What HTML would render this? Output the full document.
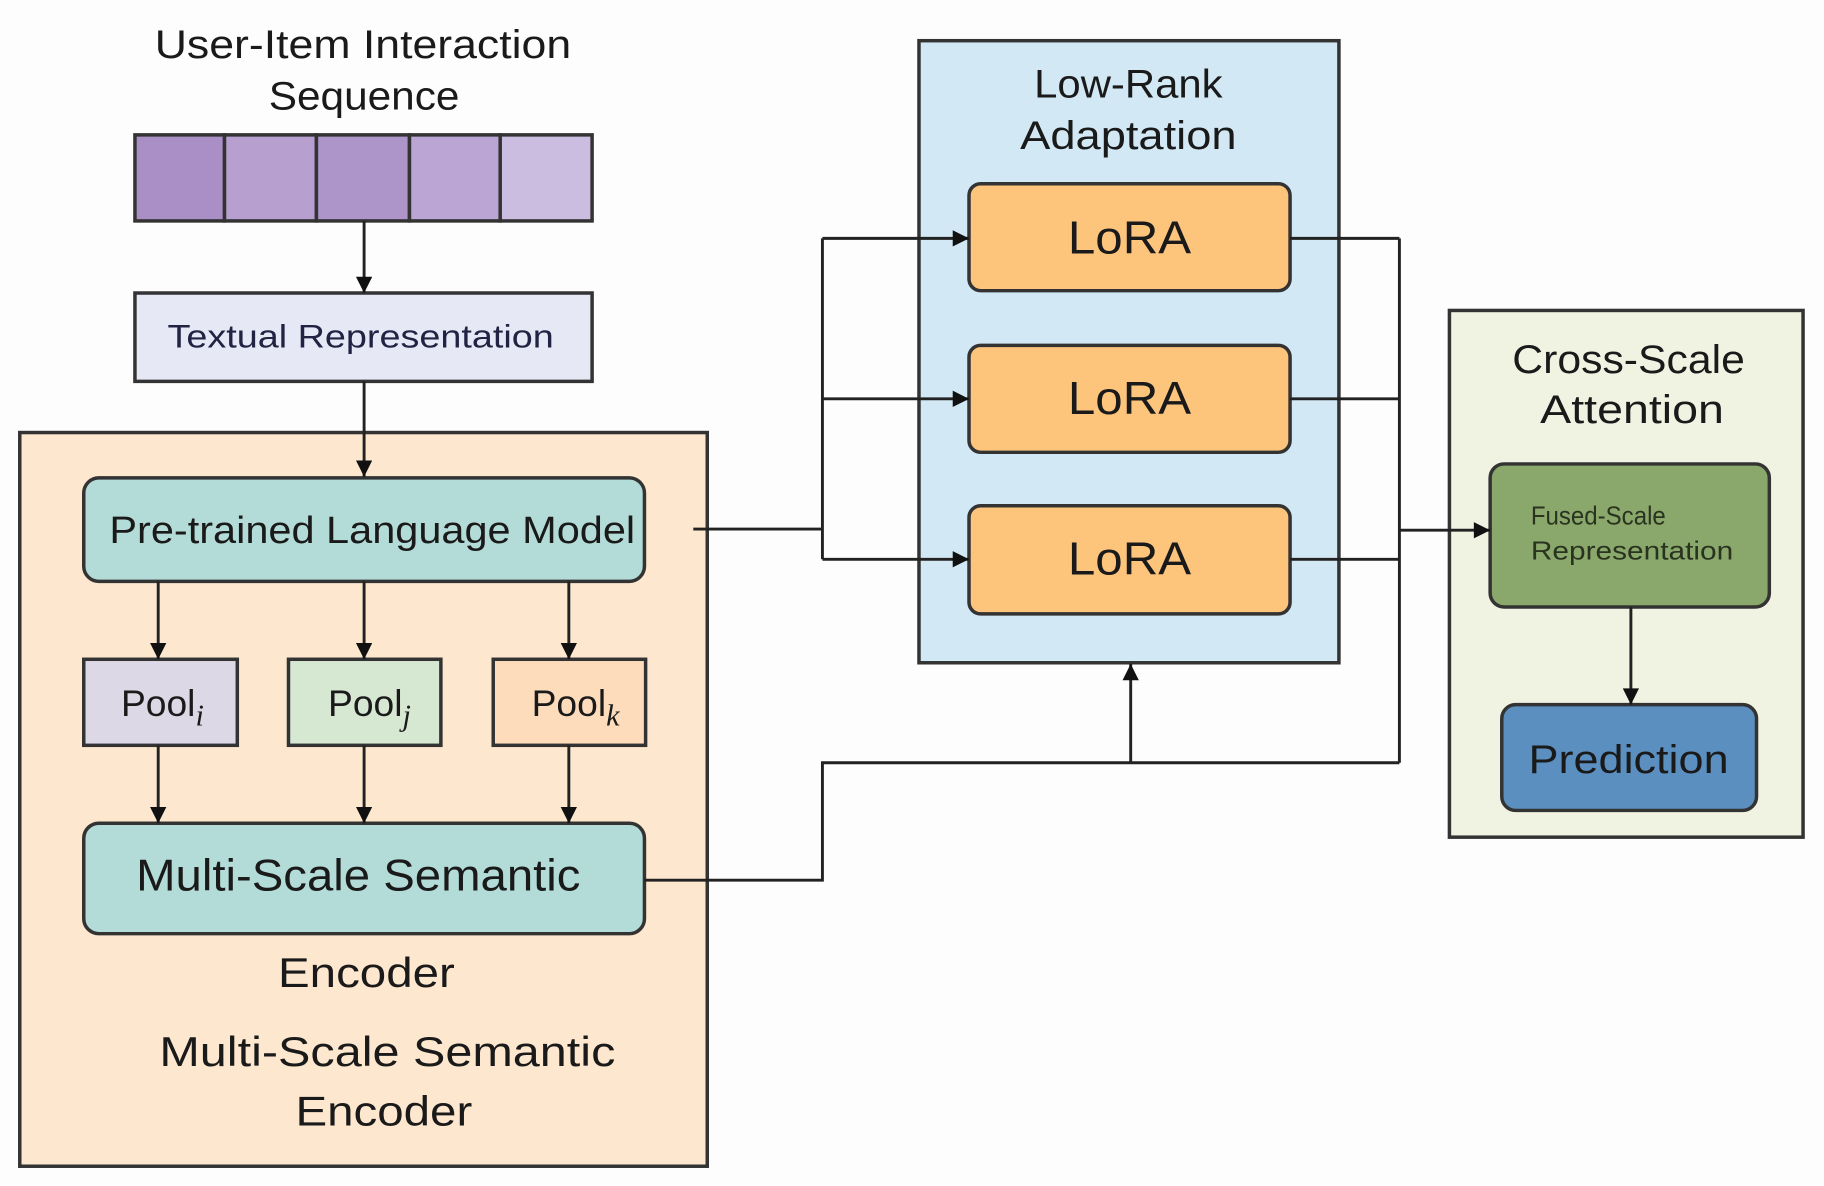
<!DOCTYPE html>
<html><head><meta charset="utf-8"><style>html,body{margin:0;padding:0;background:#fdfdfd}svg{display:block}</style></head>
<body>
<svg width="1824" height="1186" viewBox="0 0 1568 1020" preserveAspectRatio="none" xmlns="http://www.w3.org/2000/svg" font-family="Liberation Sans, sans-serif" fill="#1a1a1a">
<defs><marker id="a" markerWidth="10" markerHeight="10" refX="9" refY="5" orient="auto" markerUnits="userSpaceOnUse"><path d="M0,0 L10,5 L0,10 z" fill="#111" transform="scale(1.6) translate(-4,-2)"/></marker>
<marker id="b" viewBox="0 0 10 10" markerWidth="18" markerHeight="14" refX="10" refY="5" orient="auto" markerUnits="userSpaceOnUse"><path d="M0,0 L10,5 L0,10 z" fill="#111"/></marker></defs>
<rect x="0" y="0" width="1568" height="1020" fill="#fdfdfd"/>
<text x="312" y="50" font-size="34" text-anchor="middle" textLength="358" lengthAdjust="spacingAndGlyphs">User-Item Interaction</text>
<text x="313" y="94" font-size="34" text-anchor="middle" textLength="164" lengthAdjust="spacingAndGlyphs">Sequence</text>
<g stroke="#333" stroke-width="3">
<rect x="116" y="116" width="77" height="74" fill="#a98fc6"/>
<rect x="193" y="116" width="79" height="74" fill="#b7a0d0"/>
<rect x="272" y="116" width="80" height="74" fill="#ad95c9"/>
<rect x="352" y="116" width="78" height="74" fill="#baa5d4"/>
<rect x="430" y="116" width="79" height="74" fill="#cbbde0"/>
<rect x="116" y="252" width="393" height="76" fill="#e6e9f5"/>
<rect x="17" y="372" width="591" height="631" fill="#fde8cf"/>
<rect x="790" y="35" width="361" height="535" fill="#d2e9f5"/>
<rect x="1246" y="267" width="304" height="453" fill="#f1f3e2"/>
<rect x="72" y="411" width="482" height="89" rx="13" fill="#b3dcd8"/>
<rect x="72" y="567" width="132" height="74" fill="#dcd8e6"/>
<rect x="248" y="567" width="131" height="74" fill="#d6e8d2"/>
<rect x="424" y="567" width="131" height="74" fill="#fddcbc"/>
<rect x="72" y="708" width="482" height="95" rx="13" fill="#b3dcd8"/>
<rect x="833" y="158" width="276" height="92" rx="10" fill="#fdc47c"/>
<rect x="833" y="297" width="276" height="92" rx="10" fill="#fdc47c"/>
<rect x="833" y="435" width="276" height="93" rx="10" fill="#fdc47c"/>
<rect x="1281" y="399" width="240" height="123" rx="12" fill="#8aa86b"/>
<rect x="1291" y="606" width="219" height="91" rx="12" fill="#5b8fc0"/>
</g>
<g stroke="#222" stroke-width="2.5" fill="none">
<line x1="313" y1="190" x2="313" y2="252" marker-end="url(#b)"/>
<line x1="313" y1="328" x2="313" y2="410" marker-end="url(#b)"/>
<line x1="136" y1="500" x2="136" y2="567" marker-end="url(#b)"/>
<line x1="313" y1="500" x2="313" y2="567" marker-end="url(#b)"/>
<line x1="489" y1="500" x2="489" y2="567" marker-end="url(#b)"/>
<line x1="136" y1="641" x2="136" y2="708" marker-end="url(#b)"/>
<line x1="313" y1="641" x2="313" y2="708" marker-end="url(#b)"/>
<line x1="489" y1="641" x2="489" y2="708" marker-end="url(#b)"/>
<line x1="596" y1="455" x2="707" y2="455"/>
<line x1="707" y1="205" x2="707" y2="481"/>
<line x1="707" y1="205" x2="833" y2="205" marker-end="url(#b)"/>
<line x1="707" y1="343" x2="833" y2="343" marker-end="url(#b)"/>
<line x1="707" y1="481" x2="833" y2="481" marker-end="url(#b)"/>
<line x1="1109" y1="205" x2="1203" y2="205"/>
<line x1="1109" y1="343" x2="1203" y2="343"/>
<line x1="1109" y1="481" x2="1203" y2="481"/>
<line x1="1203" y1="205" x2="1203" y2="656"/>
<line x1="1203" y1="456" x2="1281" y2="456" marker-end="url(#b)"/>
<polyline points="554,757 707,757 707,656 1203,656"/>
<line x1="972" y1="656" x2="972" y2="571" marker-end="url(#b)"/>
<line x1="1402" y1="522" x2="1402" y2="606" marker-end="url(#b)"/>
</g>
<text x="310" y="299" font-size="28" text-anchor="middle" fill="#222244" textLength="332" lengthAdjust="spacingAndGlyphs">Textual Representation</text>
<text x="320" y="467" font-size="33" text-anchor="middle" textLength="452" lengthAdjust="spacingAndGlyphs">Pre-trained Language Model</text>
<text x="104" y="616" font-size="32">Pool<tspan font-family="Liberation Serif, serif" font-style="italic" font-size="26" dy="8">i</tspan></text>
<text x="282" y="616" font-size="32">Pool<tspan font-family="Liberation Serif, serif" font-style="italic" font-size="26" dy="8">j</tspan></text>
<text x="457" y="616" font-size="32">Pool<tspan font-family="Liberation Serif, serif" font-style="italic" font-size="26" dy="8">k</tspan></text>
<text x="308" y="766" font-size="38" text-anchor="middle" textLength="382" lengthAdjust="spacingAndGlyphs">Multi-Scale Semantic</text>
<text x="315" y="849" font-size="36" text-anchor="middle" textLength="152" lengthAdjust="spacingAndGlyphs">Encoder</text>
<text x="333" y="917" font-size="36" text-anchor="middle" textLength="392" lengthAdjust="spacingAndGlyphs">Multi-Scale Semantic</text>
<text x="330" y="968" font-size="36" text-anchor="middle" textLength="152" lengthAdjust="spacingAndGlyphs">Encoder</text>
<text x="970" y="84" font-size="34" text-anchor="middle" textLength="162" lengthAdjust="spacingAndGlyphs">Low-Rank</text>
<text x="970" y="128" font-size="34" text-anchor="middle" textLength="186" lengthAdjust="spacingAndGlyphs">Adaptation</text>
<text x="971" y="218" font-size="40" text-anchor="middle" textLength="106" lengthAdjust="spacingAndGlyphs">LoRA</text>
<text x="971" y="356" font-size="40" text-anchor="middle" textLength="106" lengthAdjust="spacingAndGlyphs">LoRA</text>
<text x="971" y="494" font-size="40" text-anchor="middle" textLength="106" lengthAdjust="spacingAndGlyphs">LoRA</text>
<text x="1400" y="321" font-size="34" text-anchor="middle" textLength="200" lengthAdjust="spacingAndGlyphs">Cross-Scale</text>
<text x="1403" y="364" font-size="34" text-anchor="middle" textLength="158" lengthAdjust="spacingAndGlyphs">Attention</text>
<text x="1316" y="451" font-size="22" fill="#2a3320" textLength="116" lengthAdjust="spacingAndGlyphs">Fused-Scale</text>
<text x="1316" y="481" font-size="22" fill="#2a3320" textLength="174" lengthAdjust="spacingAndGlyphs">Representation</text>
<text x="1400" y="665" font-size="34" text-anchor="middle" textLength="172" lengthAdjust="spacingAndGlyphs">Prediction</text>
</svg>
</body></html>
